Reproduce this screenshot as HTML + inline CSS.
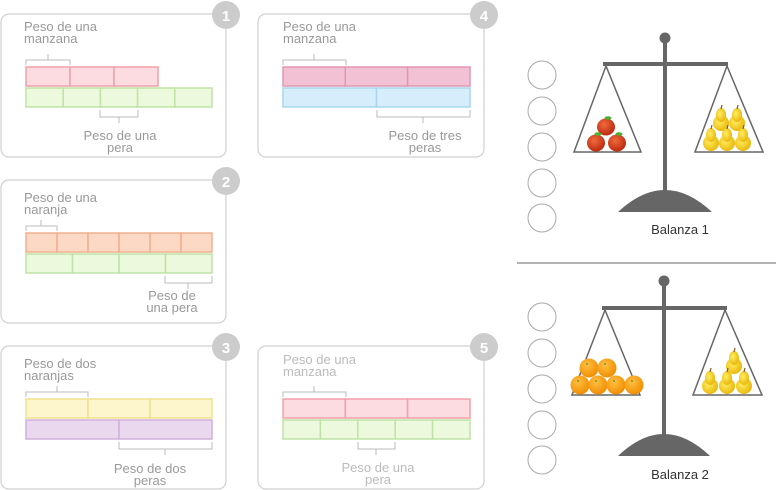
<!DOCTYPE html>
<html><head><meta charset="utf-8"><style>
html,body{margin:0;padding:0;background:#fff;}
svg{display:block;}
text{font-family:"Liberation Sans",sans-serif;}
</style></head><body>
<svg width="776" height="490" viewBox="0 0 776 490" xmlns="http://www.w3.org/2000/svg">
<defs>
<radialGradient id="ap" cx="0.4" cy="0.35" r="0.7"><stop offset="0" stop-color="#f06a3a"/><stop offset="1" stop-color="#b8250e"/></radialGradient>
<radialGradient id="pe" cx="0.4" cy="0.4" r="0.7"><stop offset="0" stop-color="#ffee60"/><stop offset="1" stop-color="#e6b000"/></radialGradient>
<radialGradient id="or" cx="0.4" cy="0.35" r="0.7"><stop offset="0" stop-color="#ffc040"/><stop offset="1" stop-color="#f08a00"/></radialGradient>
<g id="apple"><ellipse cx="0" cy="0" rx="9" ry="8.5" fill="url(#ap)"/><ellipse cx="2" cy="-9" rx="3.5" ry="1.8" fill="#4caf32"/></g>
<g id="pear"><ellipse cx="0" cy="4" rx="8" ry="8" fill="url(#pe)"/><ellipse cx="0" cy="-4" rx="5" ry="7" fill="url(#pe)"/><line x1="0" y1="-10" x2="1" y2="-14" stroke="#8a5a20" stroke-width="1.2"/></g>
<g id="orange"><circle cx="0" cy="0" r="9.5" fill="url(#or)"/><circle cx="-2" cy="-4" r="0.9" fill="#4a8a30"/></g>
</defs>

<g fill="none" stroke="#d0d0d0" stroke-width="1.2">
<rect x="1" y="14" width="225" height="143" rx="8"/>
<rect x="1" y="180" width="225" height="143" rx="8"/>
<rect x="1" y="346" width="225" height="143" rx="8"/>
<rect x="258" y="14" width="226" height="143" rx="8"/>
<rect x="258" y="346" width="226" height="143" rx="8"/>
</g>
<g fill="#cccccc"><circle cx="226" cy="15" r="14"/><circle cx="226" cy="181" r="14"/><circle cx="226" cy="347" r="14"/><circle cx="484" cy="15" r="14"/><circle cx="484" cy="347" r="14"/></g>
<g fill="#fff" font-size="15" font-weight="bold" text-anchor="middle">
<text x="226" y="21">1</text><text x="226" y="187">2</text><text x="226" y="353">3</text><text x="484" y="21">4</text><text x="484" y="353">5</text></g>

<g stroke-width="1.5">
<g fill="#fcdce0" stroke="#f0a0a8"><rect x="26" y="67" width="44" height="19"/><rect x="70" y="67" width="44" height="19"/><rect x="114" y="67" width="44" height="19"/></g>
<g fill="#ecf9dc" stroke="#bfe3a6"><rect x="26" y="88" width="37.2" height="19"/><rect x="63.2" y="88" width="37.2" height="19"/><rect x="100.4" y="88" width="37.2" height="19"/><rect x="137.6" y="88" width="37.2" height="19"/><rect x="174.8" y="88" width="37.2" height="19"/></g>
<g fill="#f2c2d4" stroke="#e396b4"><rect x="283" y="67" width="62.3" height="19"/><rect x="345.3" y="67" width="62.3" height="19"/><rect x="407.6" y="67" width="62.4" height="19"/></g>
<g fill="#d6eefc" stroke="#a8d6f0"><rect x="283" y="88" width="93.5" height="19"/><rect x="376.5" y="88" width="93.5" height="19"/></g>
<g fill="#fbd9c4" stroke="#f0b090"><rect x="26" y="233" width="31" height="19"/><rect x="57" y="233" width="31" height="19"/><rect x="88" y="233" width="31" height="19"/><rect x="119" y="233" width="31" height="19"/><rect x="150" y="233" width="31" height="19"/><rect x="181" y="233" width="31" height="19"/></g>
<g fill="#ecf9dc" stroke="#bfe3a6"><rect x="26" y="254" width="46.5" height="19"/><rect x="72.5" y="254" width="46.5" height="19"/><rect x="119" y="254" width="46.5" height="19"/><rect x="165.5" y="254" width="46.5" height="19"/></g>
<g fill="#fdf6cc" stroke="#f0e090"><rect x="26" y="399" width="62" height="19"/><rect x="88" y="399" width="62" height="19"/><rect x="150" y="399" width="62" height="19"/></g>
<g fill="#ead8ee" stroke="#d0b0da"><rect x="26" y="420" width="93" height="19"/><rect x="119" y="420" width="93" height="19"/></g>
<g fill="#fcdce0" stroke="#f0a0a8"><rect x="283" y="399" width="62.3" height="19"/><rect x="345.3" y="399" width="62.3" height="19"/><rect x="407.6" y="399" width="62.4" height="19"/></g>
<g fill="#ecf9dc" stroke="#bfe3a6"><rect x="283" y="420" width="37.4" height="19"/><rect x="320.4" y="420" width="37.4" height="19"/><rect x="357.8" y="420" width="37.4" height="19"/><rect x="395.2" y="420" width="37.4" height="19"/><rect x="432.6" y="420" width="37.4" height="19"/></g>
</g>

<g fill="none" stroke="#bbbbbb" stroke-width="1">
<path d="M26 65V60H70V65M48 60V54"/>
<path d="M100 110V117H138V110M119 117V123"/>
<path d="M283 65V60H346V65M314 60V54"/>
<path d="M377 110V117H470V110M423 117V123"/>
<path d="M26 231V226H57V231M41 226V220"/>
<path d="M165 276V283H212V276M188 283V289"/>
<path d="M26 397V392H88V397M57 392V386"/>
<path d="M119 442V449H212V442M165 449V455"/>
<path d="M283 397V392H346V397M314 392V386"/>
<path d="M358 442V449H395V442M376 449V455"/>
</g>

<g fill="#999" font-size="13">
<text x="24" y="31">Peso de una</text><text x="24" y="43">manzana</text>
<text x="120" y="140" text-anchor="middle">Peso de una</text><text x="120" y="152" text-anchor="middle">pera</text>
<text x="283" y="31">Peso de una</text><text x="283" y="43">manzana</text>
<text x="425" y="140" text-anchor="middle">Peso de tres</text><text x="425" y="152" text-anchor="middle">peras</text>
<text x="24" y="202">Peso de una</text><text x="24" y="214">naranja</text>
<text x="172" y="300" text-anchor="middle">Peso de</text><text x="172" y="312" text-anchor="middle">una pera</text>
<text x="24" y="368">Peso de dos</text><text x="24" y="380">naranjas</text>
<text x="150" y="473" text-anchor="middle">Peso de dos</text><text x="150" y="485" text-anchor="middle">peras</text>
</g>
<g fill="#bbb" font-size="13">
<text x="283" y="364">Peso de una</text><text x="283" y="376">manzana</text>
<text x="378" y="472" text-anchor="middle">Peso de una</text><text x="378" y="484" text-anchor="middle">pera</text>
</g>

<g fill="none" stroke="#aaa" stroke-width="1">
<circle cx="542" cy="75" r="14"/><circle cx="542" cy="111" r="14"/><circle cx="542" cy="147" r="14"/><circle cx="542" cy="183" r="14"/><circle cx="542" cy="218" r="14"/>
<circle cx="542" cy="317" r="14"/><circle cx="542" cy="353" r="14"/><circle cx="542" cy="389" r="14"/><circle cx="542" cy="425" r="14"/><circle cx="542" cy="460" r="14"/>
</g>
<line x1="517" y1="263" x2="776" y2="263" stroke="#999" stroke-width="1.5"/>

<g fill="#666" stroke="#666">
<circle cx="665" cy="38" r="5.5" stroke="none"/>
<line x1="665" y1="40" x2="665" y2="196" stroke-width="4"/>
<line x1="603" y1="64" x2="728" y2="64" stroke-width="4"/>
<path d="M618 212 Q665 168 712 212Z" stroke="none"/>
<path d="M606 66L574 152H641Z M727 66L695 152H763Z" fill="none" stroke-width="1.5"/>
</g>
<use href="#apple" x="606" y="127"/><use href="#apple" x="596" y="143"/><use href="#apple" x="617" y="143"/>
<use href="#pear" x="721" y="119"/><use href="#pear" x="737" y="119"/><use href="#pear" x="711" y="139"/><use href="#pear" x="727" y="139"/><use href="#pear" x="743" y="139"/>
<text x="680" y="234" font-size="13" fill="#333" text-anchor="middle">Balanza 1</text>

<g fill="#666" stroke="#666">
<circle cx="664" cy="281" r="5.5" stroke="none"/>
<line x1="664" y1="283" x2="664" y2="440" stroke-width="4"/>
<line x1="602" y1="308" x2="727" y2="308" stroke-width="4"/>
<path d="M618 456 Q664 412 710 456Z" stroke="none"/>
<path d="M605 310L572 395H640Z M725 310L693 395H762Z" fill="none" stroke-width="1.5"/>
</g>
<use href="#orange" x="589" y="368"/><use href="#orange" x="607" y="368"/>
<use href="#orange" x="580" y="385"/><use href="#orange" x="598" y="385"/><use href="#orange" x="616" y="385"/><use href="#orange" x="634" y="385"/>
<use href="#pear" x="734" y="362"/><use href="#pear" x="710" y="382"/><use href="#pear" x="727" y="382"/><use href="#pear" x="744" y="382"/>
<text x="680" y="479" font-size="13" fill="#333" text-anchor="middle">Balanza 2</text>
</svg>
</body></html>
